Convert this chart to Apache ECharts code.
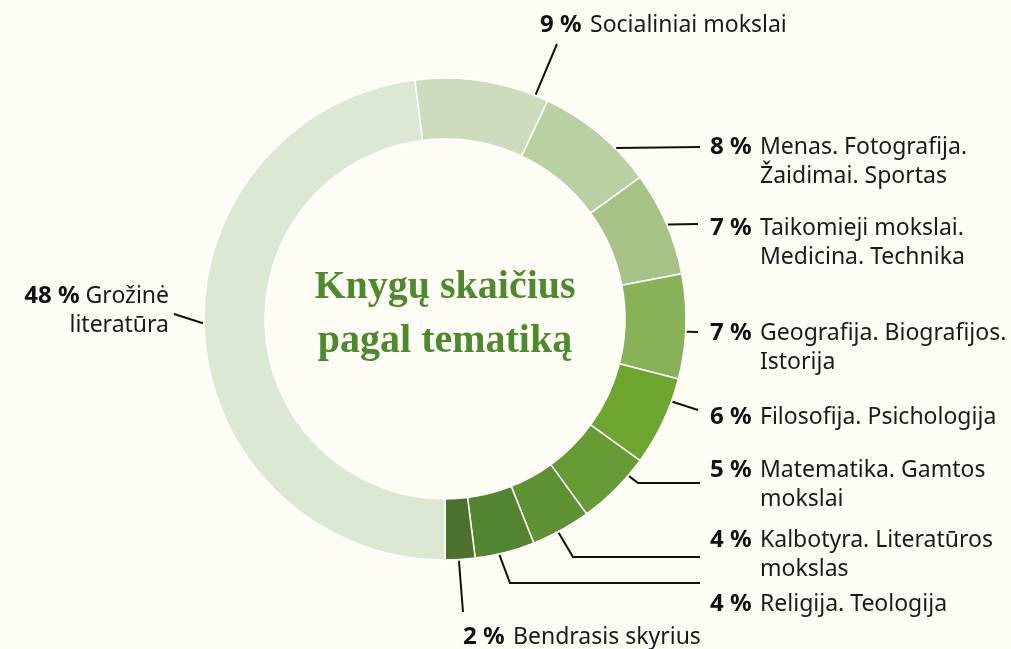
<!DOCTYPE html>
<html>
<head>
<meta charset="utf-8">
<script src="https://cdn.jsdelivr.net/npm/echarts@6/dist/echarts.min.js"></script>
<style>
  html, body { margin: 0; padding: 0; background: #fffcf5; }
  #chart { width: 1011px; height: 649px; }
</style>
</head>
<body>
<div id="chart"></div>
<script>
// data, clockwise from just left of the top
const categories = [
  'Socialiniai mokslai',
  'Menas. Fotografija.\nŽaidimai. Sportas',
  'Taikomieji mokslai.\nMedicina. Technika',
  'Geografija. Biografijos.\nIstorija',
  'Filosofija. Psichologija',
  'Matematika. Gamtos\nmokslai',
  'Kalbotyra. Literatūros\nmokslas',
  'Religija. Teologija',
  'Bendrasis skyrius',
  'Grožinė\nliteratūra'
]
const shares = [9, 8, 7, 7, 6, 5, 4, 4, 2, 48]
const colors = [
  '#cedcbd', '#b9d0a3', '#a6c286', '#88b257', '#6ea52f',
  '#669a35', '#5d9132', '#53842f', '#4a722c', '#dce7d4'
]

// label placement: first text line centre + alignment
const labelAnchors = [
  [540, 25, 'left'],
  [710, 147, 'left'],
  [710, 228, 'left'],
  [710, 333, 'left'],
  [710, 417, 'left'],
  [710, 470, 'left'],
  [710, 540, 'left'],
  [710, 604, 'left'],
  [463, 637, 'left'],
  [169, 296, 'right']
]
// where each leader line touches the ring (deg clockwise from top)
const attachAngles = [22, 45, 67, 93, 110, 130.5, 152, 167, 176.7, 269]
// the remaining points of each leader line
const linePaths = [
  [[557, 44]],
  [[700, 147]],
  [[698, 224]],
  [[698, 332]],
  [[698, 410]],
  [[638, 483], [700, 483]],
  [[573, 557], [700, 557]],
  [[510, 583], [700, 583]],
  [[463, 612]],
  [[174, 314]]
]

const cx = 445
const cy = 319
const lineH = 29
const font = 'Noto Sans'

const chart = echarts.init(document.getElementById('chart'))

const formatLabel = (p) => {
  const lines = p.name.split('\n')
  if (p.dataIndex === 9) {
    return [`{pl|${p.value} %} {n|${lines[0]}}`]
      .concat(lines.slice(1).map((l) => `{n|${l}}`)).join('\n')
  }
  return [`{p|${p.value} %}{n|${lines[0]}}`]
    .concat(lines.slice(1).map((l) => `{ind|}{n|${l}}`)).join('\n')
}

const option = {
  backgroundColor: '#fffcf5',
  animation: false,
  title: {
    text: 'Knygų skaičius\npagal tematiką',
    left: cx - 5,
    top: 256,
    textAlign: 'center',
    textStyle: {
      fontFamily: 'Liberation Serif',
      fontWeight: 'bold',
      fontSize: 40,
      lineHeight: 54,
      color: '#4b8b2b',
    },
  },
  series: [
    {
      type: 'pie',
      center: [cx, cy],
      radius: [180, 241],
      startAngle: 97.2,
      clockwise: true,
      avoidLabelOverlap: false,
      emphasis: { disabled: true },
      itemStyle: { borderColor: '#ffffff', borderWidth: 1.5 },
      color: colors,
      data: categories.map((name, i) => ({ name, value: shares[i] })),
      label: {
        show: true,
        position: 'outside',
        formatter: formatLabel,
        fontFamily: font,
        fontSize: 23,
        lineHeight: lineH,
        color: '#1a1a1a',
        rich: {
          p: { fontFamily: font, fontWeight: 'bold', fontSize: 24, lineHeight: lineH, width: 50, color: '#111' },
          pl: { fontFamily: font, fontWeight: 'bold', fontSize: 24, lineHeight: lineH, color: '#111' },
          n: { fontFamily: font, fontSize: 23, lineHeight: lineH, color: '#1a1a1a' },
          ind: { width: 50, lineHeight: lineH },
        },
      },
      labelLine: {
        show: true,
        lineStyle: { color: '#111', width: 2 },
      },
      labelLayout: (params) => {
        const i = params.dataIndex
        const [x, y, align] = labelAnchors[i]
        const a = (attachAngles[i] * Math.PI) / 180
        const start = [cx + 242 * Math.sin(a), cy - 242 * Math.cos(a)]
        return {
          x,
          y: y - lineH / 2,
          align,
          verticalAlign: 'top',
          labelLinePoints: [start].concat(linePaths[i]),
        }
      },
    },
  ],
}

chart.setOption(option)
</script>
</body>
</html>
